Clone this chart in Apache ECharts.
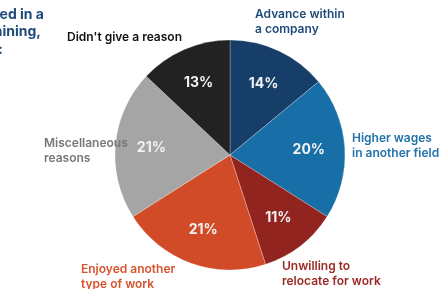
<!DOCTYPE html>
<html><head><meta charset="utf-8">
<script src="https://cdn.jsdelivr.net/npm/echarts@6/dist/echarts.min.js"></script>
<style>html,body{margin:0;padding:0;background:#fff}#c{width:446px;height:289px}</style>
</head><body><div id="c"></div>
<script>
var categories = ['Advance within\na company','Higher wages\nin another field','Unwilling to\nrelocate for work','Enjoyed another\ntype of work','Miscellaneous\nreasons',"Didn't give a reason"];
var values = [14, 20, 11, 21, 21, 13];
var sliceColors = ['#173e69','#186ea6','#92241f','#d24b28','#a5a5a5','#222222'];
var labelColors = ['#1e4a7a','#2373ab','#9a2a25','#d8532c','#777777','#111111'];
var labelPos = [[255,6.5],[352,131],[282,258.5],[81,261.5],[44,135.5],[67,29.5]];
var titleLines = ['employed in a','training,','reasons:'];
var titleRight = [44,41,3];
var titleY = [17,34,52];

var font = 'Inter, "Noto Sans", sans-serif';
var chart = echarts.init(document.getElementById('c'), null, {renderer:'canvas'});
var data = categories.map(function(n,i){return {name:n, value:values[i], itemStyle:{color:sliceColors[i]}, label:{color:labelColors[i]}};});
var data2 = categories.map(function(n,i){return {name:n, value:values[i]};});
chart.setOption({
  animation:false,
  graphic: titleLines.map(function(t,i){return {type:'text', right: 446-titleRight[i], top: titleY[i]-9, style:{text:t, font:'700 14px '+font, fill:'#1f4a7a', textAlign:'right'}};}),
  series:[{
    type:'pie', center:[230,155], radius:115, startAngle:90, clockwise:true,
    data:data, silent:true,
    itemStyle:{borderColor:'rgba(255,255,255,0.5)', borderWidth:0.5},
    label:{show:true, position:'outside', fontFamily:font, fontWeight:600, fontSize:12, lineHeight:15, align:'left', overflow:'none', edgeDistance:0, bleedMargin:0},
    labelLine:{show:false},
    labelLayout:function(p){var q=labelPos[p.dataIndex];return {x:q[0], y:q[1], align:'left', verticalAlign:'top', hideOverlap:false, moveOverlap:null};}
  },{
    type:'pie', center:[230,155], radius:[0,152], startAngle:90, clockwise:true,
    data:data2, silent:true,
    itemStyle:{color:'rgba(0,0,0,0)'},
    label:{show:true, position:'inside', formatter:'{c}%', color:'#f2f2f2', fontFamily:font, fontWeight:700, fontSize:14},
    labelLine:{show:false}
  }]
});
</script></body></html>
